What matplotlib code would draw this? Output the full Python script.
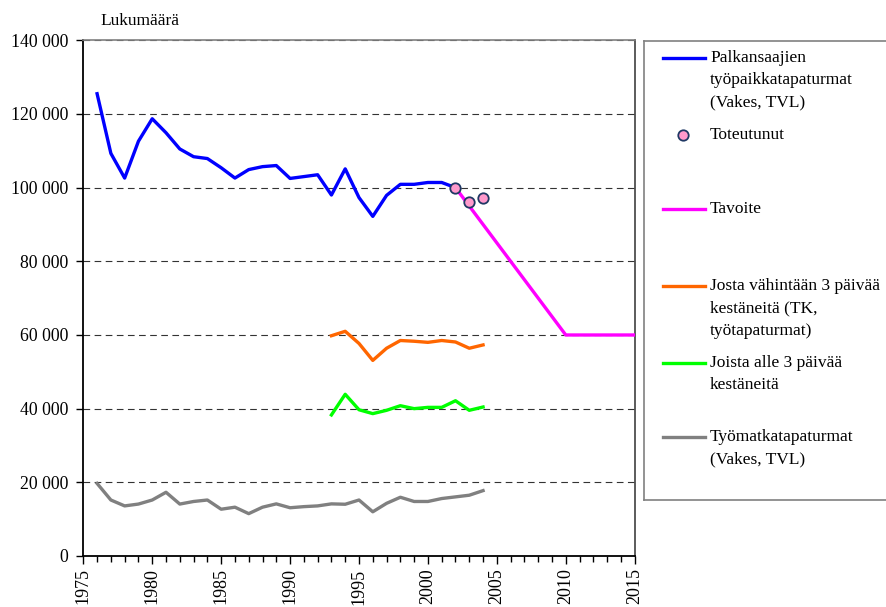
import numpy as np
import matplotlib.pyplot as plt
from matplotlib.ticker import FuncFormatter, MultipleLocator

plt.rcParams['font.family'] = ['Liberation Serif', 'DejaVu Serif']

# data
years_main = list(range(1976, 2003))
palkansaajat = [125500, 109300, 102600, 112600, 118700, 114900, 110500, 108400,
                107900, 105400, 102600, 104900, 105700, 106000, 102500, 103000,
                103500, 98000, 105100, 97300, 92200, 97900, 100900, 100900,
                101400, 101400, 100000]

years_tot = [2002, 2003, 2004]
toteutunut = [100000, 96000, 97300]

years_tav = [2002, 2010, 2015]
tavoite = [100000, 60000, 60000]

years_tk = list(range(1993, 2005))
vahintaan3 = [59800, 61000, 57700, 53100, 56400, 58500, 58300, 58000, 58500,
              58100, 56400, 57300]
alle3 = [38300, 43900, 39700, 38650, 39550, 40800, 40000, 40350, 40350,
         42150, 39550, 40450]

years_matka = list(range(1976, 2005))
tyomatka = [19700, 15200, 13600, 14100, 15200, 17300, 14100, 14800, 15200,
            12700, 13250, 11500, 13250, 14150, 13100, 13400, 13600, 14150,
            14050, 15200, 12000, 14300, 15950, 14800, 14800, 15600, 16050,
            16500, 17750]

W, H = 887, 607
fig = plt.figure(figsize=(W / 100, H / 100), dpi=100)


def fx(px):
    return px / W


def fy(py):
    return 1 - py / H


ax = fig.add_axes([fx(83.3), fy(556), fx(634.7) - fx(83.3), fy(40.3) - fy(556)])

lw = 2.4
ax.plot(years_main, palkansaajat, color='#0000ff', lw=lw, zorder=3)
ax.plot(years_tav, tavoite, color='#ff00ff', lw=lw, zorder=3)
ax.plot(years_tk, vahintaan3, color='#ff6600', lw=lw, zorder=3)
ax.plot(years_tk, alle3, color='#00ff00', lw=lw, zorder=3)
ax.plot(years_matka, tyomatka, color='#808080', lw=lw, zorder=3)
ax.plot(years_tot, toteutunut, ls='none', marker='o', ms=7.5,
        mfc='#ff99cc', mec='#1f3864', mew=1.3, zorder=4)

ax.set_xlim(1975, 2015)
ax.set_ylim(0, 140000)
ax.xaxis.set_major_locator(MultipleLocator(5))
ax.xaxis.set_minor_locator(MultipleLocator(1))
ax.yaxis.set_major_locator(MultipleLocator(20000))
ax.yaxis.set_major_formatter(FuncFormatter(lambda v, p: f"{int(v):,}".replace(",", " ")))
ax.tick_params(axis='x', which='major', rotation=90, length=6, width=1,
               labelsize=13, pad=3)
ax.tick_params(axis='x', which='minor', length=4.5, width=1)
ax.tick_params(axis='y', length=5, width=1, labelsize=12.8, pad=6)

ax.grid(axis='y', color='#333333', lw=0.8, ls=(0, (6, 4)), zorder=1)
ax.set_axisbelow(True)
for s in ['left', 'bottom']:
    ax.spines[s].set_color('black')
    ax.spines[s].set_linewidth(1.3)
ax.spines['top'].set_color('#808080')
ax.spines['top'].set_linewidth(1.2)
ax.spines['right'].set_color('#404040')
ax.spines['right'].set_linewidth(1.2)

fig.text(fx(140), fy(21), 'Lukumäärä', ha='center', va='center', fontsize=12.5)

# legend box drawn in its own axes, pixel-like coordinates
lax = fig.add_axes([fx(644), fy(500), fx(910) - fx(644), fy(41) - fy(500)])
lax.set_xlim(644, 910)
lax.set_ylim(500, 41)
lax.set_xticks([])
lax.set_yticks([])
for s in lax.spines.values():
    s.set_color('#808080')
    s.set_linewidth(1.2)
lax.spines['right'].set_visible(False)

entries = [
    ('line', '#0000ff', 58, ['Palkansaajien', 'työpaikkatapaturmat', '(Vakes, TVL)']),
    ('dot', None, 135, ['Toteutunut']),
    ('line', '#ff00ff', 209, ['Tavoite']),
    ('line', '#ff6600', 286, ['Josta vähintään 3 päivää', 'kestäneitä (TK,', 'työtapaturmat)']),
    ('line', '#00ff00', 363, ['Joista alle 3 päivää', 'kestäneitä']),
    ('line', '#808080', 437, ['Työmatkatapaturmat', '(Vakes, TVL)']),
]
for kind, col, y0, lines in entries:
    if kind == 'line':
        lax.plot([663, 705], [y0, y0], color=col, lw=lw)
    else:
        lax.plot([683], [y0], ls='none', marker='o', ms=7.5,
                 mfc='#ff99cc', mec='#1f3864', mew=1.3)
    for i, t in enumerate(lines):
        lax.text(710, y0 + i * 22.3, t, ha='left', va='center', fontsize=12.5)

fig.savefig('out.png', dpi=100)
